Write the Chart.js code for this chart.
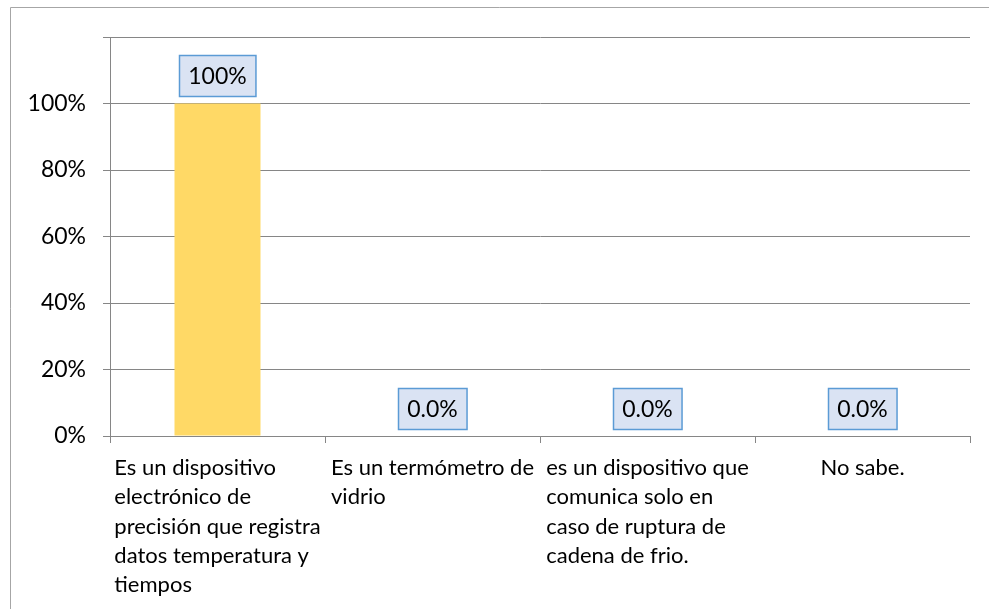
<!DOCTYPE html>
<html>
<head>
<meta charset="utf-8">
<script src="https://cdn.jsdelivr.net/npm/chart.js@4.4.1/dist/chart.umd.min.js"></script>
<style>
  body { margin: 0; background: #fff; }
  canvas { display: block; }
</style>
</head>
<body>
<canvas id="chart" width="989" height="609"></canvas>
<script>
const categories = [
  ["Es un dispositivo", "electrónico de", "precisión que registra", "datos temperatura y", "tiempos"],
  ["Es un termómetro de", "vidrio"],
  ["es un dispositivo que", "comunica solo en", "caso de ruptura de", "cadena de frio."],
  ["No sabe."],
];
const values = [100, 0, 0, 0];
const valueLabels = ["100%", "0.0%", "0.0%", "0.0%"];
const yTicks = [0, 20, 40, 60, 80, 100, 120];

const FONT = "Lato";
const FONT_SIZE = 23;
const X_FONT_SIZE = 22;

const frame = {
  id: "frame",
  beforeDraw(chart) {
    const c = chart.ctx;
    c.save();
    c.strokeStyle = "#a6a6a6";
    c.lineWidth = 1;
    c.beginPath();
    c.moveTo(10.5, 609);
    c.lineTo(10.5, 7.5);
    c.lineTo(989, 7.5);
    c.stroke();
    c.restore();
  },
};

// category labels: block centred under the category, lines left aligned
const xLabels = {
  id: "xLabels",
  afterDraw(chart) {
    const c = chart.ctx;
    const scale = chart.scales.x;
    c.save();
    c.font = X_FONT_SIZE + "px " + FONT;
    c.fillStyle = "#000";
    c.textAlign = "left";
    c.textBaseline = "alphabetic";
    categories.forEach((lines, i) => {
      const cx = scale.getPixelForValue(i);
      const w = Math.max(...lines.map((l) => c.measureText(l).width));
      const left = cx - w / 2;
      lines.forEach((l, j) => {
        c.fillText(l, left, scale.top + 39 + j * 29.3);
      });
    });
    c.restore();
  },
};

const boxLabels = {
  id: "boxLabels",
  afterDatasetsDraw(chart) {
    const c = chart.ctx;
    const meta = chart.getDatasetMeta(0);
    c.save();
    c.font = FONT_SIZE + "px " + FONT;
    c.textAlign = "center";
    c.textBaseline = "middle";
    meta.data.forEach((bar, i) => {
      const txt = valueLabels[i];
      const w = c.measureText(txt).width + 18;
      const h = 41;
      const bottom = bar.y - 7;
      const x0 = Math.round(bar.x - w / 2) + 0.5;
      const y0 = Math.round(bottom - h) + 0.5;
      c.fillStyle = "#dae3f3";
      c.fillRect(x0, y0, w, h);
      c.strokeStyle = "#5b9bd5";
      c.lineWidth = 1.5;
      c.strokeRect(x0, y0, w, h);
      c.fillStyle = "#000";
      c.fillText(txt, bar.x, y0 + h / 2 + 1);
    });
    c.restore();
  },
};

new Chart(document.getElementById("chart"), {
  type: "bar",
  data: {
    labels: categories,
    datasets: [
      {
        data: values,
        backgroundColor: "#ffd966",
        barPercentage: 0.4,
        categoryPercentage: 1,
      },
    ],
  },
  options: {
    responsive: false,
    animation: false,
    layout: { padding: { top: 37, right: 19, left: 0, bottom: 0 } },
    scales: {
      x: {
        grid: {
          drawOnChartArea: false,
          drawTicks: true,
          tickLength: 7,
          offset: true,
          color: "#868686",
        },
        border: { color: "#868686" },
        ticks: { display: false },
        afterFit: (scale) => {
          scale.height = 173;
        },
      },
      y: {
        min: 0,
        max: 120,
        afterBuildTicks: (scale) => {
          scale.ticks = yTicks.map((v) => ({ value: v }));
        },
        grid: { color: "#868686", tickLength: 7 },
        border: { color: "#868686" },
        ticks: {
          color: "#000",
          font: { family: FONT, size: FONT_SIZE },
          padding: 17,
          callback: (v) => (v >= 120 ? "" : v + "%"),
        },
        afterFit: (scale) => {
          scale.width = 110;
        },
      },
    },
    plugins: {
      legend: { display: false },
      tooltip: { enabled: false },
    },
  },
  plugins: [frame, xLabels, boxLabels],
});
</script>
</body>
</html>
